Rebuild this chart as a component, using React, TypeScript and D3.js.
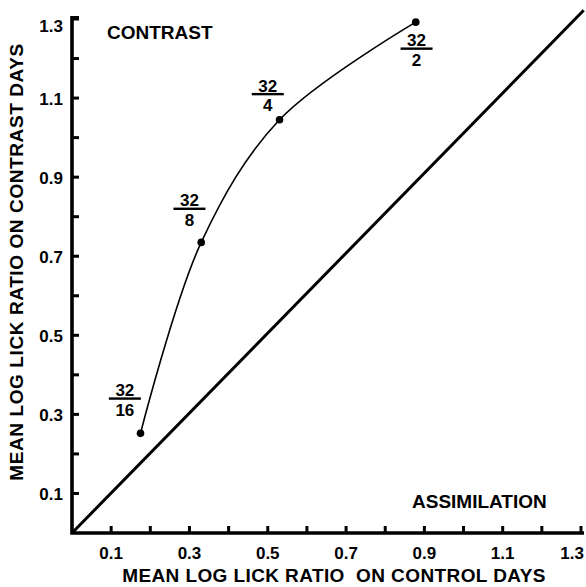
import React from "react";
import * as d3 from "d3";

const xTickValues = [0.1, 0.2, 0.3, 0.4, 0.5, 0.6, 0.7, 0.8, 0.9, 1.0, 1.1, 1.2, 1.3];
const yTickValues = [0.1, 0.2, 0.3, 0.4, 0.5, 0.6, 0.7, 0.8, 0.9, 1.0, 1.1, 1.2, 1.3];
const xTickLabels = ["0.1", "0.3", "0.5", "0.7", "0.9", "1.1", "1.3"];
const yTickLabels = ["0.1", "0.3", "0.5", "0.7", "0.9", "1.1", "1.3"];
const controlValues = [0.175, 0.33, 0.53, 0.878];
const contrastValues = [0.252, 0.735, 1.045, 1.292];
const ratioNumerators = ["32", "32", "32", "32"];
const ratioDenominators = ["16", "8", "4", "2"];
// label anchor positions in data units (center of fraction bar)
const labelX = [0.135, 0.3, 0.5, 0.88];
const labelY = [0.34, 0.82, 1.11, 1.225];

export default function App() {
  const W = 586, H = 587;
  const x = d3.scaleLinear().domain([0, 1.3]).range([72, 581]);
  const y = d3.scaleLinear().domain([0, 1.3]).range([533, 19]);
  const font = "'Liberation Sans', Arial, Helvetica, sans-serif";
  const pts: [number, number][] = controlValues.map((v, i) => [x(v), y(contrastValues[i])]);
  const curve = d3.line().curve(d3.curveCatmullRom.alpha(0.5))(pts) || "";
  const x0 = x(0), y0 = y(0);
  const ink = "#000000";
  return (
    <svg width={W} height={H} viewBox={`0 0 ${W} ${H}`} style={{ position: "absolute", left: 0, top: 0, display: "block" }}>
      <rect x={0} y={0} width={W} height={H} fill="#ffffff" />
      <path d={`M${x0},16 V${y0} H584`} fill="none" stroke={ink} strokeWidth={3.6} />
      {yTickValues.map((v) => (
        <path key={"yt" + v} d={`M${x0},${y(v)} h7`} stroke={ink} strokeWidth={3} />
      ))}
      <path d={`M${x0},17.5 h7`} stroke={ink} strokeWidth={3} />
      {xTickValues.map((v) => (
        <path key={"xt" + v} d={`M${x(v)},${y0} v-7`} stroke={ink} strokeWidth={3} />
      ))}
      {yTickLabels.map((t) => (
        <text key={"yl" + t} x={63} y={t === "1.3" ? y(+t) + 13 : y(+t) + 7} textAnchor="end" fontFamily={font} fontWeight="bold" fontSize={17}>
          {t}
        </text>
      ))}
      {xTickLabels.map((t, i) => (
        <text key={"xl" + t} x={i === xTickLabels.length - 1 ? 584 : x(+t)} y={559} textAnchor={i === xTickLabels.length - 1 ? "end" : "middle"} fontFamily={font} fontWeight="bold" fontSize={17}>
          {t}
        </text>
      ))}
      <path d={`M${x0},${y0} L${x(1.307)},${y(1.322)}`} fill="none" stroke={ink} strokeWidth={3} />
      <path d={curve} fill="none" stroke={ink} strokeWidth={1.6} />
      {pts.map((p, i) => (
        <circle key={"p" + i} cx={p[0]} cy={p[1]} r={3.8} fill={ink} />
      ))}
      {ratioNumerators.map((n, i) => (
        <g key={"f" + i} transform={`translate(${x(labelX[i])},${y(labelY[i])})`}>
          <rect x={-16} y={-1.2} width={32} height={2.4} fill={ink} />
          <text x={0} y={-2.5} textAnchor="middle" fontFamily={font} fontWeight="bold" fontSize={17}>{n}</text>
          <text x={0} y={17} textAnchor="middle" fontFamily={font} fontWeight="bold" fontSize={17}>{ratioDenominators[i]}</text>
        </g>
      ))}
      <text x={107} y={39} fontFamily={font} fontWeight="bold" fontSize={19}>CONTRAST</text>
      <text x={412} y={508} fontFamily={font} fontWeight="bold" fontSize={19}>ASSIMILATION</text>
      <text x={334} y={582} textAnchor="middle" fontFamily={font} fontWeight="bold" fontSize={19} letterSpacing={0.4} style={{ whiteSpace: "pre" }}>
        MEAN LOG LICK RATIO  ON CONTROL DAYS
      </text>
      <text transform="translate(23,262) rotate(-90)" textAnchor="middle" fontFamily={font} fontWeight="bold" fontSize={19} letterSpacing={0.6}>
        MEAN LOG LICK RATIO ON CONTRAST DAYS
      </text>
    </svg>
  );
}
